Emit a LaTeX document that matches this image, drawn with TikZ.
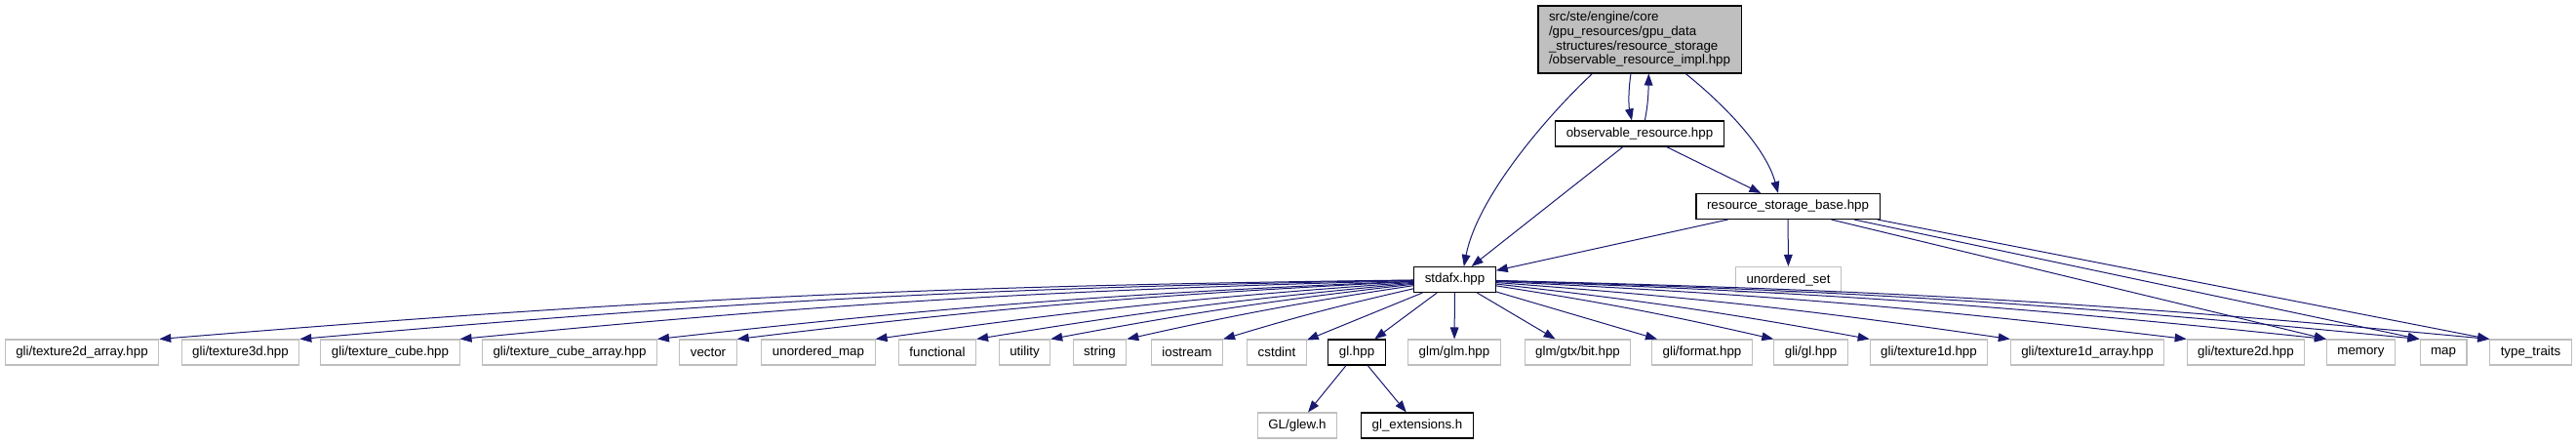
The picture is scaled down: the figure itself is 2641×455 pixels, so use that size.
\documentclass[tikz,border=0pt]{standalone}
\usepackage{fontspec}
\setmainfont{Liberation Sans}
\usetikzlibrary{arrows.meta}
\definecolor{edgeblue}{HTML}{191970}
\definecolor{grey75}{HTML}{BFBFBF}

\begin{document}
\begin{tikzpicture}[x=0.75pt,y=-0.75pt,
  file/.style={draw=black,line width=0.8pt,inner xsep=8.25pt,inner ysep=0pt,
    minimum height=19.5pt,font=\fontsize{10pt}{11pt}\selectfont},
  sys/.style={file,draw=grey75},
  dep/.style={->,>={Triangle[length=9pt,width=6.5pt]},draw=edgeblue,line width=0.75pt}]
  \path[use as bounding box,fill=white] (0,0) rectangle (2641,455);
  % files of the project
  \node[file,fill=grey75,align=left,minimum height=51.75pt] (impl) at (1681,40.5)
    {src/ste/engine/core\\/gpu\_resources/gpu\_data\\\_structures/resource\_storage\\/observable\_resource\_impl.hpp};
  \node[file] (obs) at (1681,137) {observable\_resource.hpp};
  \node[file] (rsb) at (1833,211.5) {resource\_storage\_base.hpp};
  \node[file] (stdafx) at (1491.5,286.5) {stdafx.hpp};
  \node[sys] (uset) at (1833.5,286.5) {unordered\_set};
  \node[file] (glhpp) at (1391,361) {gl.hpp};
  \node[sys] (glew) at (1330,436) {GL/glew.h};
  \node[file] (glext) at (1453,436) {gl\_extensions.h};
  \foreach \n/\x/\t in {t2da/84/{gli/texture2d\_array.hpp},t3d/246.5/{gli/texture3d.hpp},
      tcube/400/{gli/texture\_cube.hpp},tcubea/584/{gli/texture\_cube\_array.hpp},
      vector/726/vector,umap/839/unordered\_map,functional/961/functional,
      utility/1050.5/utility,string/1127.5/string,iostream/1217/iostream,
      cstdint/1309/cstdint,glm/1491/{glm/glm.hpp},gtxbit/1617.5/{glm/gtx/bit.hpp},
      format/1745/{gli/format.hpp},gligl/1856.5/{gli/gl.hpp},t1d/1977.5/{gli/texture1d.hpp},
      t1da/2140/{gli/texture1d\_array.hpp},t2d/2302.5/{gli/texture2d.hpp},
      memory/2420.5/memory,map/2505/map,traits/2594.5/type\_traits}
    \node[sys] (\n) at (\x,361) {\t};
  % includes
  \draw[dep] ([xshift=42pt]impl.south west) .. controls (1590,115) and (1515,200) .. ([xshift=7pt]stdafx.north);
  \draw[dep] ([xshift=-6.75pt]impl.south) .. controls (1669,95) and (1670,110) .. ([xshift=-6pt]obs.north);
  \draw[dep] ([xshift=4pt]obs.north) .. controls (1690,105) and (1690,92) .. ([xshift=7pt]impl.south);
  \draw[dep] ([xshift=-43pt]impl.south east) .. controls (1765,105) and (1810,150) .. ([xshift=-7.5pt]rsb.north);
  \draw[dep] (obs) -- (stdafx);
  \draw[dep] (obs) -- (rsb);
  \draw[dep] (rsb) -- (stdafx);
  \draw[dep] (rsb) -- (uset);
  \draw[dep] ([xshift=-37.5pt]rsb.south east) -- (memory.north west);
  \draw[dep] ([xshift=-20pt]rsb.south east) -- (map.north west);
  \draw[dep] ([xshift=-2pt]rsb.south east) -- (traits.north west);
  \foreach \n in {t2da,t3d,tcube,tcubea,vector,umap,functional,utility,string,iostream}
    \draw[dep] (stdafx) to[bend right=2] (\n.north east);
  \foreach \n in {cstdint,glhpp,glm,gtxbit,format}
    \draw[dep] (stdafx) -- (\n);
  \foreach \n in {gligl,t1d,t1da,t2d,memory,map,traits}
    \draw[dep] (stdafx) to[bend left=2] (\n.north west);
  \draw[dep] (glhpp) -- (glew);
  \draw[dep] (glhpp) -- (glext);
\end{tikzpicture}
\end{document}
